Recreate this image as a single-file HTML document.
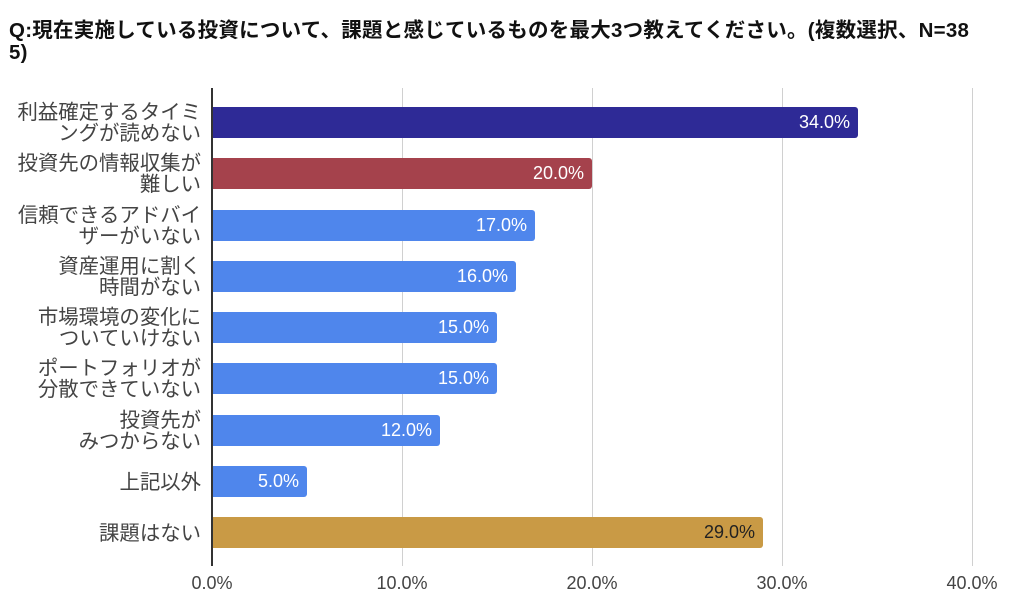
<!DOCTYPE html>
<html><head><meta charset="utf-8"><style>
body{margin:0;width:1024px;height:606px;background:#fff;position:relative;overflow:hidden;font-family:"Liberation Sans","Noto Sans CJK JP",sans-serif}
.t{position:absolute;left:9px;top:20px;font-weight:bold;font-size:20.5px;letter-spacing:0.25px;line-height:22px;color:#111;white-space:nowrap}
.g{position:absolute;top:88px;height:478px;width:1px;background:#d0d0d0}
.ax{position:absolute;left:211px;top:88px;height:478px;width:2px;background:#333}
.b{position:absolute;left:212px;height:31px;border-radius:0 3px 3px 0}
.v{position:absolute;right:8px;top:0;line-height:31px;font-size:18px;color:#fff}
.l{position:absolute;right:823px;width:220px;text-align:right;font-size:20.4px;line-height:21px;color:#444;white-space:nowrap}
.x{position:absolute;top:573px;font-size:18px;color:#444;width:90px;text-align:center}
</style></head><body>
<div class="t">Q:現在実施している投資について、課題と感じているものを最大3つ教えてください。(複数選択、N=38<br>5)</div>
<div class="g" style="left:402px"></div><div class="g" style="left:592px"></div><div class="g" style="left:782px"></div><div class="g" style="left:972px"></div>
<div class="b" style="top:107px;width:646px;background:#2e2a96"><span class="v">34.0%</span></div>
<div class="b" style="top:158px;width:380px;background:#a5424c"><span class="v">20.0%</span></div>
<div class="b" style="top:210px;width:323px;background:#4f86ec"><span class="v">17.0%</span></div>
<div class="b" style="top:261px;width:304px;background:#4f86ec"><span class="v">16.0%</span></div>
<div class="b" style="top:312px;width:285px;background:#4f86ec"><span class="v">15.0%</span></div>
<div class="b" style="top:363px;width:285px;background:#4f86ec"><span class="v">15.0%</span></div>
<div class="b" style="top:415px;width:228px;background:#4f86ec"><span class="v">12.0%</span></div>
<div class="b" style="top:466px;width:95px;background:#4f86ec"><span class="v">5.0%</span></div>
<div class="b" style="top:517px;width:551px;background:#c99a45"><span class="v" style="color:#222">29.0%</span></div>
<div class="ax"></div>
<div class="l" style="top:103px">利益確定するタイミ<br>ングが読めない</div>
<div class="l" style="top:154px">投資先の情報収集が<br>難しい</div>
<div class="l" style="top:206px">信頼できるアドバイ<br>ザーがいない</div>
<div class="l" style="top:257px">資産運用に割く<br>時間がない</div>
<div class="l" style="top:308px">市場環境の変化に<br>ついていけない</div>
<div class="l" style="top:359px">ポートフォリオが<br>分散できていない</div>
<div class="l" style="top:411px">投資先が<br>みつからない</div>
<div class="l" style="top:473px;line-height:20px">上記以外</div>
<div class="l" style="top:524px;line-height:20px">課題はない</div>
<div class="x" style="left:167px">0.0%</div>
<div class="x" style="left:357px">10.0%</div>
<div class="x" style="left:547px">20.0%</div>
<div class="x" style="left:737px">30.0%</div>
<div class="x" style="left:927px">40.0%</div>
</body></html>
